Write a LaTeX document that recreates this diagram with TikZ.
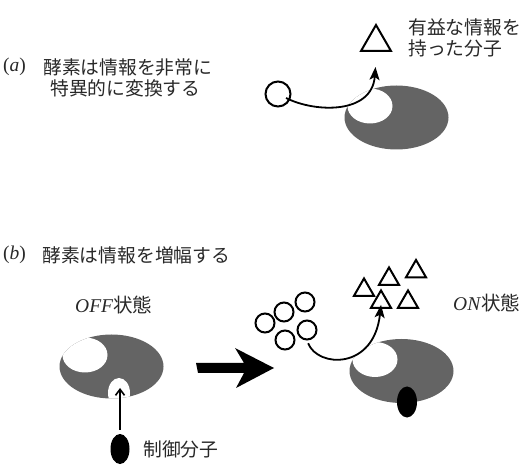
\documentclass[tikz,border=0pt]{standalone}
\usepackage{fontspec}
\setmainfont{Liberation Serif}
\newfontfamily\cjk{Noto Sans CJK JP}
\usetikzlibrary{arrows.meta,shapes.geometric}
\definecolor{enzfill}{RGB}{100,100,100}
\definecolor{ink}{RGB}{40,40,40}

\begin{document}
\begin{tikzpicture}[x=1pt,y=-1pt,
  lbl/.style={font=\cjk\fontsize{18.8}{21}\selectfont, text=ink, inner sep=0pt, anchor=west},
  tag/.style={font=\fontsize{19.5}{22}\selectfont, text=ink, inner sep=0pt, anchor=west},
  subs/.style={circle, draw=black, line width=2pt, inner sep=0pt, minimum size=#1},
  prod/.style={regular polygon, regular polygon sides=3, draw=black, line width=2pt, inner sep=0pt, minimum size=#1},
  flow/.style={line width=1.8pt, -{Stealth[length=13pt,width=10pt,inset=3pt]}},
  regul/.style={ellipse, fill=black, inner sep=0pt, minimum width=19pt, minimum height=30pt},
  enzyme/.pic={
    \fill[enzfill] (0,0) ellipse [x radius=52, y radius=32];
    \begin{scope}
      \clip (0,0) ellipse [x radius=52, y radius=32];
      \fill[white] (-26.5,-11.5) ellipse [x radius=22.5, y radius=17.5];
    \end{scope}
  },
]
\useasboundingbox (0,0) rectangle (520,465);

% ---------- (a) specific conversion ----------
\node[tag] (taga) at (3,67) {(\textit{a})};
\node[lbl] (texta1) at (43,67) {酵素は情報を非常に};
\node[lbl] (texta2) at (50,88) {特異的に変換する};

\pic at (396.5,117.5) {enzyme};
\node[subs=25pt] (suba) at (278,94) {};
\node[prod=34.6pt] (proda) at (376,42.3) {};
\node[lbl] (proda1) at (408,27) {有益な情報を};
\node[lbl] (proda2) at (408,48) {持った分子};

\draw[flow, shorten <=9pt, shorten >=7pt] (suba.center)
  .. controls (316,113) and (372,114) .. (proda.center |- 0,60);

% ---------- (b) amplification ----------
\node[tag] (tagb) at (3,255) {(\textit{b})};
\node[lbl] (textb) at (42,255) {酵素は情報を増幅する};

% OFF state enzyme with empty regulatory site
\pic at (111.5,366.5) {enzyme};
\begin{scope}
  \clip (111.5,366.5) ellipse [x radius=52, y radius=32];
  \fill[white] (119,393) ellipse [x radius=11, y radius=15];
\end{scope}
\node[tag] (offlbl) at (75,305) {\textit{OFF}\cjk 状態};

\node[regul] (ctl) at (120,449) {};
\coordinate (site) at (120,388);
\draw[line width=1.6pt, -{Straight Barb[length=6pt,width=9pt]}, shorten <=4pt] (ctl.north) -- (site);
\node[lbl] (ctllbl) at (143,449) {制御分子};

% transition arrow: shaft plus a barbed head
\coordinate (bigtail) at (196,368);
\coordinate (bigtip) at (274,368);
\fill (bigtail) ++(0,-5) -- ++(48,0) -- ++(-9,-15) -- (bigtip)
  -- ++(-38,20) -- ++(8,-15) -- ++(-46,0) -- cycle;

% ON state enzyme with bound regulator
\pic at (401.5,371) {enzyme};
\node[regul, minimum width=20pt, minimum height=31pt] (ctlon) at (407,402) {};
\node[tag] (onlbl) at (453,303) {\textit{ON}\cjk 状態};

\node[subs=19pt] (s1) at (265,323) {};
\node[subs=19pt] (s2) at (284,312) {};
\node[subs=19pt] (s3) at (305,302) {};
\node[subs=19pt] (s4) at (307,330) {};
\node[subs=19pt] (s5) at (285,340) {};

\node[prod=23.1pt] (p1) at (364,290) {};
\node[prod=23.1pt] (p2) at (389,279) {};
\node[prod=23.1pt] (p3) at (416,271.5) {};
\node[prod=23.1pt] (p4) at (381,302) {};
\node[prod=23.1pt] (p5) at (408,302) {};

\draw[flow, shorten <=3pt] (s4.south)
  .. controls (318,368) and (374,370) .. ([yshift=4pt]p4.south);
\end{tikzpicture}
\end{document}
